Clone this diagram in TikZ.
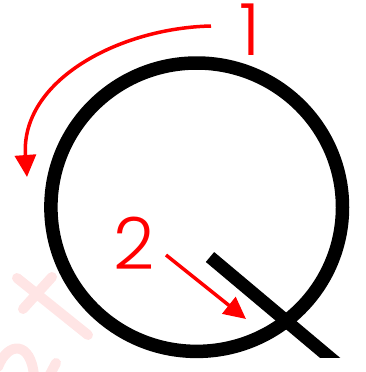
\documentclass[tikz,border=0pt]{standalone}
\usepackage{fontspec}
\setmainfont{Poppins Light}
\usetikzlibrary{arrows.meta}
\definecolor{markred}{RGB}{255,0,0}
\definecolor{wmpink}{RGB}{255,229,229}
\tikzset{
  ring/.style={draw=black, line width=13.5pt},
  tailline/.style={draw=black, line width=13pt, line cap=butt},
  redarrow/.style={draw=markred, line width=3.5pt, -{Triangle[length=22pt,width=21pt]}},
  numlabel/.style={text=markred, font=\fontsize{72}{72}\selectfont, inner sep=0pt, anchor=base},
  wmstroke/.style={draw=wmpink, line width=10pt, line cap=round}
}
\begin{document}
\begin{tikzpicture}[x=1pt,y=-1pt]
\useasboundingbox (0,0) rectangle (366,372);
% watermark fragments
\begin{scope}
\clip (0,0) rectangle (366,372);
\draw[wmstroke] (17,278) -- (88,335);
\draw[wmstroke] (52,277) -- (23,309);
\draw[wmstroke] (-2,367) .. controls (8,341) and (31,341) .. (34,376);
\draw[wmstroke] (56,363) -- (47,380);
\end{scope}
% letter Q
\coordinate (c) at (196.7,207.2);
\draw[ring] (c) ellipse [x radius=145.8pt, y radius=144.2pt];
\coordinate (tailA) at (210,257);
\coordinate (tailB) at (345,370.4);
\begin{scope}
\clip (0,0) rectangle (366,357.5);
\draw[tailline] (tailA) -- (tailB);
\end{scope}
% labels
\node[numlabel] (one) at (250,55) {1};
\node[numlabel] (two) at (134.5,269) {2};
% arrows
\coordinate (a1s) at (211,26);
\coordinate (a1e) at (27,177);
\draw[redarrow] (a1s) .. controls (120,28) and (20,80) .. (a1e);
\coordinate (a2s) at (166,255);
\coordinate (a2e) at (246,319);
\draw[redarrow] (a2s) -- (a2e);
\end{tikzpicture}
\end{document}
